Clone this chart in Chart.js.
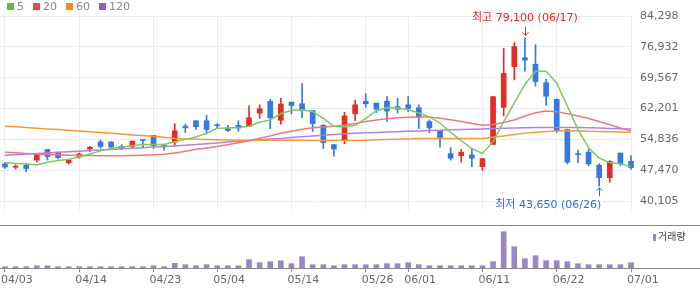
<!DOCTYPE html>
<html>
<head>
<meta charset="utf-8">
<script src="https://cdn.jsdelivr.net/npm/chart.js@4/dist/chart.umd.min.js"></script>
<style>
  html, body { margin: 0; padding: 0; background: #fff; overflow: hidden; }
  #wrap { position: relative; width: 700px; height: 289px; }
  canvas { position: absolute; left: 0; }
  #price { top: 0; }
  #vol { top: 225px; }
</style>
</head>
<body>
<div id="wrap">
  <canvas id="price" width="700" height="226"></canvas>
  <canvas id="vol" width="700" height="64"></canvas>
</div>
<script>
// trading days, 04/03 .. 07/01
const dates = ['04/03','04/06','04/07','04/08','04/09','04/10','04/13','04/14','04/15','04/16',
  '04/17','04/20','04/21','04/22','04/23','04/24','04/27','04/28','04/29','04/30',
  '05/04','05/06','05/07','05/08','05/11','05/12','05/13','05/14','05/15','05/18',
  '05/19','05/20','05/21','05/22','05/26','05/27','05/28','05/29','06/01','06/02',
  '06/04','06/05','06/08','06/09','06/10','06/11','06/12','06/15','06/16','06/17',
  '06/18','06/19','06/22','06/23','06/24','06/25','06/26','06/29','06/30','07/01'];

const open = [49000,48200,48700,49900,52450,51750,49250,50650,52550,54250,
  54250,53200,53150,54650,55800,53400,54200,58000,59300,59300,
  58150,57600,58200,58000,61100,63950,59400,63750,63350,61700,
  58200,53600,54700,60950,63950,63500,63950,62650,63100,62400,
  59100,56900,51450,50950,51150,48350,53650,62500,72200,74350,
  72800,68400,64400,57200,51250,51800,48700,45700,51600,49600];
const high = [49300,48800,49150,51200,52450,51800,50050,51600,53200,54700,
  54250,53600,54450,54700,55800,53750,58600,58500,59300,60650,
  58600,58200,59300,62850,63100,64400,64650,63750,68150,61700,
  58400,53600,61300,64200,65750,63500,65050,64650,65050,63100,
  59500,56900,52900,52450,52700,50250,65050,76550,77950,79100,
  77450,69250,64550,57200,52300,52450,49000,49800,51600,50950];
const low = [47900,47750,47150,49450,49900,50200,48950,50350,51900,52750,
  52400,52400,52750,52900,52650,52300,53350,56450,57200,56150,
  57400,56750,56750,58000,59850,57400,58450,60950,60050,56750,
  52650,50850,53800,59300,62500,61250,59150,61150,61450,57400,
  56400,53000,49900,49400,48350,47450,53650,60450,69050,71100,
  67550,62950,56500,49000,49250,48550,43650,44600,48550,47700];
const close = [48250,48250,47900,51200,50750,50500,49900,51350,53000,53150,
  53000,52650,54450,54600,53350,53050,56900,57600,57850,57200,
  58100,56950,57550,60000,62200,60000,63300,62950,61700,58600,
  54100,52550,60450,63100,63350,62050,61600,62050,62250,60050,
  57600,55200,50350,51800,50350,50250,65050,70600,77000,73750,
  68650,65150,56900,49400,51200,49000,45700,49600,49000,48100];

const ma5 = [49300,49100,48950,48800,49400,49800,50100,50650,51350,52100,
  52650,53000,53350,53650,53650,53650,54300,54850,55400,56300,
  57500,57550,57700,58000,58950,59500,60950,61800,61900,61450,
  59850,57950,57800,58200,59850,61700,62400,62350,61900,61150,
  60200,58750,56500,54550,52650,51500,54300,59100,63500,68000,
  71100,71100,68300,62800,57250,52850,50400,49300,49000,48350];
const ma20 = [51750,51630,51500,51370,51260,51170,51080,51020,50970,50930,
  50930,50950,50990,51060,51150,51300,51590,52030,52470,52810,
  53140,53580,54020,54530,55130,55680,56300,56780,57270,57620,
  57820,58000,58220,58660,59100,59480,59770,59990,60100,60170,
  60210,59880,59550,59100,58660,58220,58380,58880,59480,60430,
  61200,61600,61470,60980,60430,59830,59100,58330,57560,56890];
const ma60 = [58000,57840,57670,57510,57340,57180,57000,56850,56670,56470,
  56300,56120,55920,55750,55570,55350,55080,54950,54860,54790,
  54730,54680,54640,54640,54640,54640,54640,54640,54640,54550,
  54550,54550,54550,54550,54640,54730,54790,54860,54950,55040,
  55060,55060,55060,55060,55060,55060,55350,55680,56010,56340,
  56560,56720,56830,56850,56830,56780,56740,56670,56610,56520];
const ma120 = [51040,51170,51330,51460,51590,51750,51880,52030,52170,52300,
  52430,52580,52720,52850,53000,53140,53290,53470,53650,53820,
  54000,54200,54380,54550,54730,54910,55080,55280,55460,55630,
  55810,55990,56170,56320,56410,56500,56590,56670,56760,56850,
  56940,57030,57120,57180,57270,57340,57420,57490,57560,57620,
  57670,57690,57710,57710,57670,57600,57540,57470,57400,57340];

const volume = [130000,130000,130000,230000,230000,130000,130000,130000,130000,130000,
  130000,130000,130000,130000,230000,130000,470000,330000,230000,330000,
  230000,230000,230000,830000,530000,630000,730000,430000,1130000,330000,
  330000,230000,330000,330000,330000,330000,430000,430000,530000,330000,
  230000,230000,230000,230000,230000,230000,630000,3630000,2130000,930000,
  1230000,730000,730000,630000,430000,330000,330000,330000,330000,530000];

const priceTicks = [40105, 47470, 54836, 62201, 69567, 76932, 84298];
const dateTicks = ['04/03','04/14','04/23','05/04','05/14','05/26','06/01','06/11','06/22','07/01'];
const maNames = ['5', '20', '60', '120'];

const RED = '#e02d27', BLUE = '#3478e0';
const maColors = ['#5dbb3e', '#e94848', '#f48a1c', '#9c5ac9'];
const maLine = ['#7ccb5e', '#f07878', '#f59a3c', '#b083dc'];
const FONT = '"DejaVu Sans", "Noto Sans CJK KR", sans-serif';

Chart.defaults.font.family = FONT;
Chart.defaults.font.size = 11;
Chart.defaults.color = '#666';

const idx = dates.map((d, i) => i);
const tickIdx = dateTicks.map(d => dates.indexOf(d));
const fmt = v => v.toLocaleString('en-US');
const upDown = idx.map(i => close[i] >= open[i] ? RED : BLUE);

const xBase = () => ({
  type: 'linear', min: -0.47, max: dates.length - 1, offset: false,
  afterBuildTicks: s => { s.ticks = tickIdx.map(v => ({ value: v })); },
  border: { display: false }
});

const priceDeco = {
  id: 'priceDeco',
  afterDraw(chart) {
    const { ctx, chartArea, scales: { x, y } } = chart;
    ctx.save();
    ctx.font = '11px ' + FONT;
    ctx.textBaseline = 'middle';
    ctx.textAlign = 'left';
    let lx = 7;
    maNames.forEach((n, k) => {
      ctx.fillStyle = maColors[k];
      ctx.fillRect(lx, 3, 7, 7);
      ctx.fillStyle = '#888';
      ctx.fillText(n, lx + 10, 7);
      lx += 10 + ctx.measureText(n).width + 9;
    });

    // highest
    const hv = Math.max(...high), hi = high.indexOf(hv);
    const hx = x.getPixelForValue(hi), hy = y.getPixelForValue(hv);
    const hText = '최고 ' + fmt(hv) + ' (' + dates[hi] + ')';
    ctx.fillStyle = ctx.strokeStyle = '#f01e1e';
    ctx.lineWidth = 1;
    const hw = ctx.measureText(hText).width;
    ctx.textAlign = hx + hw / 2 > chartArea.right ? 'right' : 'center';
    ctx.fillText(hText, ctx.textAlign === 'right' ? hx + 2 : hx, hy - 19.5);
    ctx.beginPath();
    ctx.moveTo(Math.round(hx) + 0.5, hy - 11);
    ctx.lineTo(Math.round(hx) + 0.5, hy - 2.5);
    ctx.moveTo(Math.round(hx) - 2.5, hy - 5.5);
    ctx.lineTo(Math.round(hx) + 0.5, hy - 2.5);
    ctx.lineTo(Math.round(hx) + 3.5, hy - 5.5);
    ctx.stroke();

    // lowest
    const lv = Math.min(...low), li = low.indexOf(lv);
    const px = x.getPixelForValue(li), py = y.getPixelForValue(lv);
    const lText = '최저 ' + fmt(lv) + ' (' + dates[li] + ')';
    ctx.fillStyle = ctx.strokeStyle = '#2a6fd6';
    const lw = ctx.measureText(lText).width;
    ctx.textAlign = px + lw / 2 > chartArea.right ? 'right' : 'center';
    ctx.fillText(lText, ctx.textAlign === 'right' ? px + 2 : px, py + 18.5);
    ctx.beginPath();
    ctx.moveTo(Math.round(px) + 0.5, py + 10);
    ctx.lineTo(Math.round(px) + 0.5, py + 1.5);
    ctx.moveTo(Math.round(px) - 2.5, py + 4.5);
    ctx.lineTo(Math.round(px) + 0.5, py + 1.5);
    ctx.lineTo(Math.round(px) + 3.5, py + 4.5);
    ctx.stroke();
    ctx.restore();
  }
};

new Chart(document.getElementById('price'), {
  type: 'bar',
  data: {
    datasets: [
      ...maNames.map((n, k) => ({
        type: 'line', label: n,
        data: idx.map(i => ({ x: i, y: [ma5, ma20, ma60, ma120][k][i] })),
        borderColor: maLine[k], borderWidth: 1.5, pointRadius: 0, tension: 0, order: 0
      })),
      {
        label: 'body', data: idx.map(i => ({ x: i, y: [open[i], close[i]] })),
        backgroundColor: upDown, borderWidth: 0, barThickness: 5, minBarLength: 1,
        grouped: false, clip: false, order: 2
      },
      {
        label: 'wick', data: idx.map(i => ({ x: i, y: [low[i], high[i]] })),
        backgroundColor: upDown, borderWidth: 0, barThickness: 1,
        grouped: false, clip: false, order: 3
      }
    ]
  },
  options: {
    responsive: false, animation: false,
    layout: { padding: { top: 16, left: 0, right: 0, bottom: 0 } },
    plugins: { legend: { display: false }, tooltip: { enabled: false } },
    scales: {
      x: {
        ...xBase(),
        ticks: { display: false },
        grid: { color: '#ececec', drawTicks: false, offset: false },
        afterFit: s => { s.height = 0; }
      },
      y: {
        position: 'right', min: 37894, max: 84298,
        afterBuildTicks: s => { s.ticks = priceTicks.map(v => ({ value: v })); },
        ticks: { padding: 9, color: '#666', callback: v => fmt(v) },
        grid: { color: '#ececec', drawTicks: false },
        border: { display: false },
        afterFit: s => { s.width = 69; }
      }
    }
  },
  plugins: [priceDeco]
});

const volDeco = {
  id: 'volDeco',
  afterDraw(chart) {
    const { ctx, chartArea } = chart;
    ctx.save();
    ctx.strokeStyle = '#888';
    ctx.lineWidth = 1;
    ctx.beginPath();
    ctx.moveTo(0, 0.5); ctx.lineTo(chart.width, 0.5);
    ctx.moveTo(0, chartArea.bottom + 0.5); ctx.lineTo(chart.width, chartArea.bottom + 0.5);
    ctx.stroke();
    ctx.fillStyle = '#9b86c4';
    ctx.fillRect(653, 9, 3, 7);
    ctx.fillStyle = '#444';
    ctx.font = '10px ' + FONT;
    ctx.textBaseline = 'middle';
    ctx.textAlign = 'left';
    ctx.fillText('거래량', 658, 12.5);
    ctx.restore();
  }
};

new Chart(document.getElementById('vol'), {
  type: 'bar',
  data: {
    datasets: [{
      label: '거래량', data: idx.map(i => ({ x: i, y: volume[i] })),
      backgroundColor: '#9b86c4', borderWidth: 0, barThickness: 5, clip: false
    }]
  },
  options: {
    responsive: false, animation: false,
    layout: { padding: { top: 1, left: 0, right: 69, bottom: 0 } },
    plugins: { legend: { display: false }, tooltip: { enabled: false } },
    scales: {
      x: {
        ...xBase(),
        ticks: { align: 'start', labelOffset: -4, padding: 2, color: '#666',
          autoSkip: false, maxRotation: 0, callback: v => dates[v] },
        grid: { drawOnChartArea: false, drawTicks: true, tickLength: 4,
          color: '#888', offset: false },
        afterFit: s => { s.height = 21; }
      },
      y: { display: false, min: 0, max: 4200000 }
    }
  },
  plugins: [volDeco]
});
</script>
</body>
</html>
